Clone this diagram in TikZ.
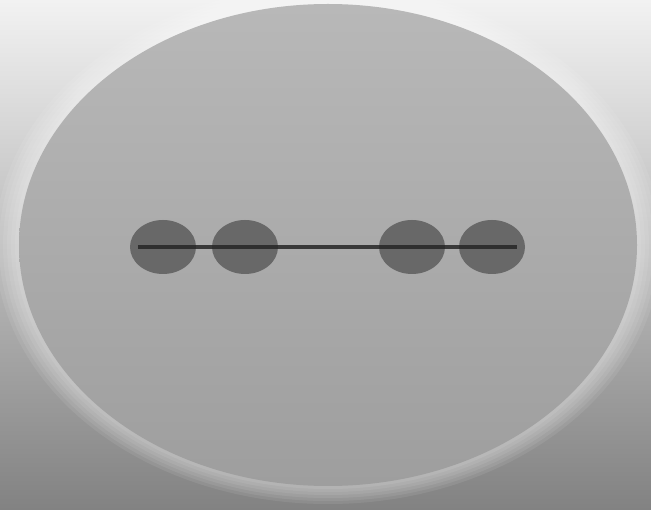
\documentclass[tikz,border=0pt]{standalone}
\usetikzlibrary{shapes.geometric}
\definecolor{bgtop}{HTML}{F2F2F2}
\definecolor{bgmid}{HTML}{D6D6D6}
\definecolor{bgbot}{HTML}{828282}
\definecolor{bodytop}{HTML}{B8B8B8}
\definecolor{bodybot}{HTML}{9E9E9E}
\definecolor{ballfill}{HTML}{686868}
\definecolor{rodcol}{HTML}{262626}
\tikzset{
  ball/.style={ellipse, fill=ballfill, minimum width=66pt, minimum height=54pt, inner sep=0pt},
  rod/.style={draw=rodcol, line width=4pt, opacity=0.85}
}
\begin{document}
\begin{tikzpicture}[x=1pt,y=-1pt]
  \useasboundingbox (0,0) rectangle (651,510);
  % background
  \shade[top color=bgtop, middle color=bgmid, bottom color=bgbot] (0,0) rectangle (651,510);
  % halo around the body
  \foreach \i in {1,...,6} {
    \fill[white, opacity=0.08] (328,245) ellipse ({309+4*\i} and {241+3*\i});
  }
  % body
  \shade[top color=bodytop, bottom color=bodybot] (328,245) ellipse (309 and 241);
  % balls
  \node[ball] (a) at (163,247) {};
  \node[ball] (b) at (245,247) {};
  \node[ball] (c) at (412,247) {};
  \node[ball] (d) at (492,247) {};
  % rod
  \draw[rod] ([xshift=8pt]a.west) -- ([xshift=-8pt]d.east);
\end{tikzpicture}
\end{document}
